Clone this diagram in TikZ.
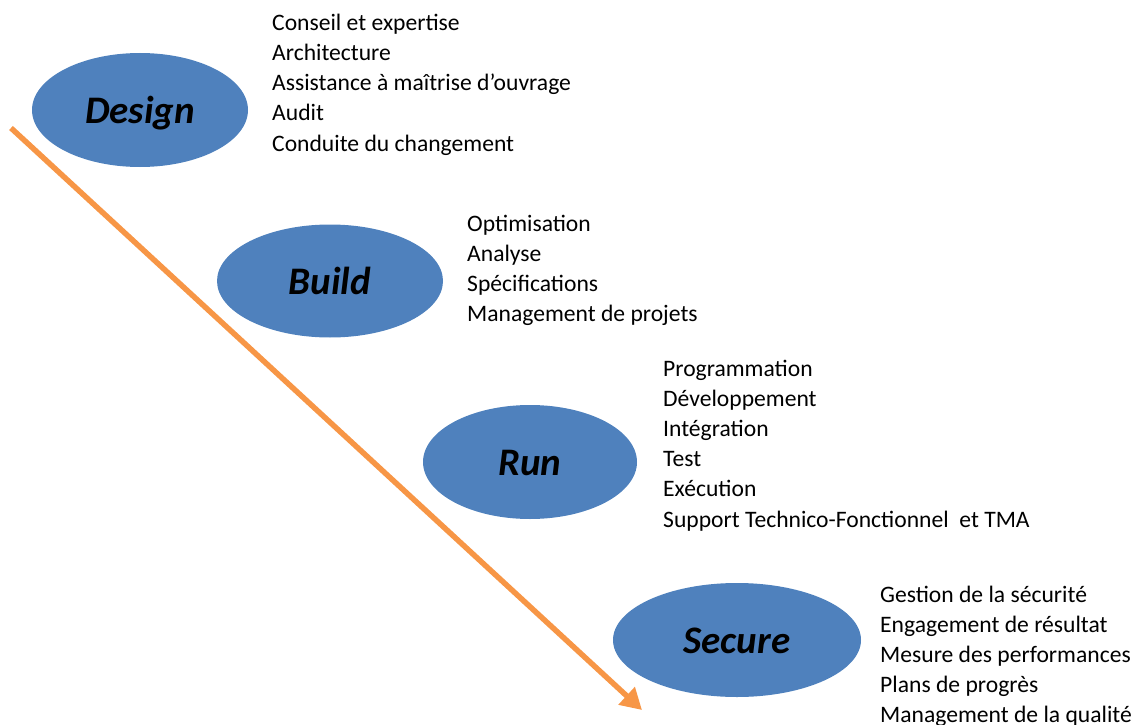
\documentclass[tikz,border=0pt]{standalone}
\usepackage{fontspec}
\setmainfont{Carlito}
\usetikzlibrary{arrows.meta,shapes.geometric}
\definecolor{phaseblue}{RGB}{79,129,189}
\definecolor{arroworange}{RGB}{247,150,70}
\tikzset{
  phase/.style={ellipse, fill=phaseblue, inner sep=0pt, text=black,
    font=\fontsize{39}{42}\selectfont\bfseries\itshape,
    text height=27pt, text depth=0pt},
  item/.style={anchor=base west, inner sep=0pt, font=\fontsize{23.6}{30}\selectfont},
  flow/.style={draw=arroworange, line width=5.5pt,
    -{Triangle[length=21pt,width=23pt]}}
}
\begin{document}
\begin{tikzpicture}[x=1pt,y=-1pt]
\useasboundingbox (0,0) rectangle (1136,725);
\node[phase, minimum width=216pt, minimum height=114pt] (design) at (140,110) {Design};
\node[phase, minimum width=226pt, minimum height=113pt] (build) at (330,281) {Build};
\node[phase, minimum width=214pt, minimum height=114pt] (run) at (530,462) {Run};
\node[phase, minimum width=248pt, minimum height=114pt] (secure) at (737,640) {Secure};

\coordinate (start) at (11,128);
\coordinate (end) at (642,710);
\draw[flow] (start) -- (end);

\foreach \t [count=\i] in {Conseil et expertise, Architecture, Assistance à maîtrise d’ouvrage, Audit, Conduite du changement}
  \node[item] (d\i) at (272,{31+30*(\i-1)}) {\t};
\foreach \t [count=\i] in {Optimisation, Analyse, Spécifications, Management de projets}
  \node[item] (b\i) at (467,{231+30*(\i-1)}) {\t};
\foreach \t [count=\i] in {Programmation, Développement, Intégration, Test, Exécution, Support Technico-Fonctionnel\ \ et TMA}
  \node[item] (r\i) at (663,{376+30.2*(\i-1)}) {\t};
\foreach \t [count=\i] in {Gestion de la sécurité, Engagement de résultat, Mesure des performances, Plans de progrès, Management de la qualité}
  \node[item] (s\i) at (880,{602+30*(\i-1)}) {\t};
\end{tikzpicture}
\end{document}
